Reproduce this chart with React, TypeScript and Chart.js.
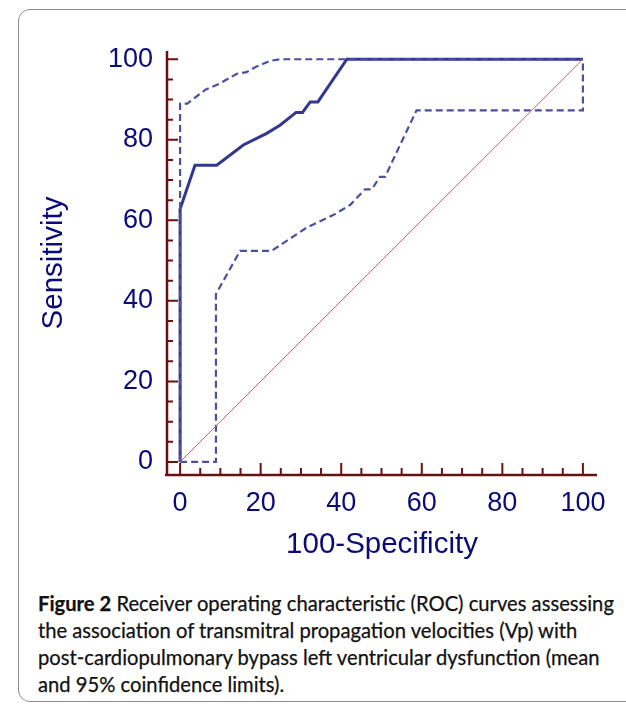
import React, { useEffect, useRef } from "react";
import { Chart, registerables } from "chart.js";

Chart.register(...registerables);

// ---- data ----
const rocX = [0, 0, 3.7, 9.1, 15.7, 21.5, 24.8, 28.8, 30.4, 32.3, 34.2, 41.4, 100];
const rocY = [0, 62.8, 73.7, 73.7, 78.7, 81.6, 83.6, 86.8, 86.8, 89.4, 89.4, 100, 100];

const upperX = [0, 0, 1.8, 6.4, 9.9, 14.1, 16.5, 18.6, 22.3, 24.8, 100];
const upperY = [0, 89, 89, 92.5, 94, 96.4, 96.8, 98, 99.6, 100, 100];

const lowerX = [0, 8.9, 8.9, 14.9, 22.7, 31.6, 38, 42.2, 45.9, 47.6, 49.6, 50.9, 54.6, 58.7, 100, 100];
const lowerY = [0, 0, 41.7, 52.4, 52.4, 58.3, 61.3, 63.8, 67.7, 67.7, 70.8, 70.8, 78.7, 87.3, 87.3, 100];

const diagX = [0, 100];
const diagY = [0, 100];

const tickLabels = [0, 20, 40, 60, 80, 100];
const tickMarks = [0, 5, 10, 15, 20, 25, 30, 35, 40, 45, 50, 55, 60, 65, 70, 75, 80, 85, 90, 95, 100];

const xTitle = "100-Specificity";
const yTitle = "Sensitivity";

const captionLines = [
  ["Figure 2", " Receiver operating characteristic (ROC) curves assessing"],
  ["", "the association of transmitral propagation velocities (Vp) with"],
  ["", "post-cardiopulmonary bypass left ventricular dysfunction (mean"],
  ["", "and 95% coinfidence limits)."],
];

const pts = (xs: number[], ys: number[]) => xs.map((x, i) => ({ x, y: ys[i] }));

const AXIS_COLOR = "#6b1010";
const LABEL_COLOR = "#0a0a78";
const CURVE_COLOR = "#33378f";
const DASH_COLOR = "#4b4f9e";
const FONT = '"Liberation Sans", Arial, sans-serif';

const axesPlugin = {
  id: "rocAxes",
  beforeDatasetsDraw(chart: any) {
    const { ctx, chartArea, scales } = chart;
    const xs = scales.x;
    const ys = scales.y;
    ctx.save();
    ctx.strokeStyle = AXIS_COLOR;
    ctx.lineCap = "butt";
    ctx.lineWidth = 2.5;
    ctx.beginPath();
    ctx.moveTo(chartArea.left, chartArea.top);
    ctx.lineTo(chartArea.left, chartArea.bottom + 1.25);
    ctx.moveTo(chartArea.left - 2, chartArea.bottom);
    ctx.lineTo(chartArea.right, chartArea.bottom);
    ctx.stroke();
    ctx.lineWidth = 2;
    ctx.beginPath();
    for (const v of tickMarks) {
      const major = v % 20 === 0;
      const len = major ? 11 : 6;
      const py = ys.getPixelForValue(v);
      ctx.moveTo(chartArea.left, py);
      ctx.lineTo(chartArea.left + len, py);
      const px = xs.getPixelForValue(v);
      ctx.moveTo(px, chartArea.bottom);
      ctx.lineTo(px, chartArea.bottom - len - 1);
    }
    ctx.stroke();
    ctx.restore();
  },
};

function RocChart() {
  const ref = useRef<HTMLCanvasElement | null>(null);
  useEffect(() => {
    if (!ref.current) return;
    const chart = new Chart(ref.current, {
      type: "scatter",
      data: {
        datasets: [
          {
            data: pts(diagX, diagY),
            showLine: true,
            borderColor: "#c46a6a",
            borderWidth: 1,
            pointRadius: 0,
          },
          {
            data: pts(lowerX, lowerY),
            showLine: true,
            borderColor: DASH_COLOR,
            borderWidth: 2.2,
            borderDash: [7, 4],
            pointRadius: 0,
          },
          {
            data: pts(upperX, upperY),
            showLine: true,
            borderColor: DASH_COLOR,
            borderWidth: 2.2,
            borderDash: [7, 4],
            pointRadius: 0,
          },
          {
            data: pts(rocX, rocY),
            showLine: true,
            borderColor: CURVE_COLOR,
            borderWidth: 3,
            pointRadius: 0,
          },
        ],
      },
      options: {
        animation: false,
        responsive: false,
        events: [],
        layout: { padding: { top: 51, right: 29, left: 0, bottom: 0 } },
        plugins: { legend: { display: false }, tooltip: { enabled: false }, title: { display: false } },
        scales: {
          x: {
            type: "linear",
            min: -3.25,
            max: 103.5,
            grid: { display: false, drawTicks: false },
            border: { display: false },
            afterBuildTicks: (s: any) => {
              s.ticks = tickLabels.map((v) => ({ value: v }));
            },
            afterFit: (s: any) => {
              s.height = 105;
            },
            ticks: {
              padding: 12,
              color: LABEL_COLOR,
              font: { family: FONT, size: 27 },
              maxRotation: 0,
              autoSkip: false,
              callback: (v: any) => String(v),
            },
            title: {
              display: true,
              text: xTitle,
              color: LABEL_COLOR,
              font: { family: FONT, size: 29.5 },
              padding: { top: 0, bottom: 17 },
            },
          },
          y: {
            type: "linear",
            min: -3.25,
            max: 102.05,
            grid: { display: false, drawTicks: false },
            border: { display: false },
            afterBuildTicks: (s: any) => {
              s.ticks = tickLabels.map((v) => ({ value: v }));
            },
            afterFit: (s: any) => {
              s.width = 167;
            },
            ticks: {
              padding: 14,
              color: LABEL_COLOR,
              font: { family: FONT, size: 27 },
              autoSkip: false,
              callback: (v: any) => String(v),
            },
            title: {
              display: true,
              text: yTitle,
              color: LABEL_COLOR,
              font: { family: FONT, size: 29.5 },
              padding: { top: 36, bottom: 0 },
            },
          },
        },
      },
      plugins: [axesPlugin],
    } as any);
    return () => chart.destroy();
  }, []);
  return (
    <canvas
      ref={ref}
      width={626}
      height={580}
      style={{ position: "absolute", left: 0, top: 0, width: 626, height: 580 }}
    />
  );
}

export default function App() {
  return (
    <div>
      <div
        style={{
          position: "absolute",
          left: 18,
          top: 9,
          width: 620,
          height: 693,
          border: "1px solid #8c8c8c",
          borderRadius: 12,
          boxSizing: "border-box",
          background: "#fff",
        }}
      />
      <RocChart />
      <div
        style={{
          position: "absolute",
          left: 38,
          top: 590,
          fontFamily: "Lato, 'Open Sans', sans-serif",
          fontSize: 20.2,
          lineHeight: "27px",
          color: "#111",
          whiteSpace: "nowrap",
          WebkitTextStroke: "0.25px #111",
        }}
      >
        {captionLines.map((l, i) => (
          <div key={i}>
            {l[0] ? <b>{l[0]}</b> : null}
            {l[1]}
          </div>
        ))}
      </div>
    </div>
  );
}
